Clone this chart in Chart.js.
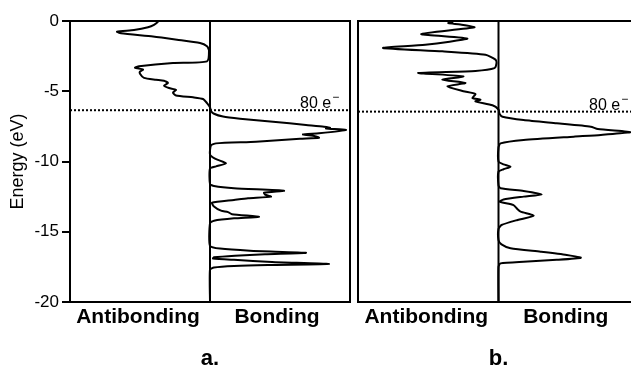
<!DOCTYPE html>
<html><head><meta charset="utf-8">
<script src="https://cdn.jsdelivr.net/npm/chart.js@4"></script>
<style>
html,body{margin:0;padding:0;background:#fff;overflow:hidden;width:631px;height:366px;}
#ca{position:absolute;left:0;top:0;}
#cb{position:absolute;left:350px;top:0;}
</style></head><body>
<canvas id="ca" width="360" height="366"></canvas>
<canvas id="cb" width="300" height="366"></canvas>
<script>
// ---- data (energy in eV, COHP-like value; negative = antibonding) ----
const energyA = [0,-0.05,-0.28,-0.45,-0.64,-0.76,-0.88,-1.1,-1.33,-1.57,-1.8,-2.1,-2.87,-2.99,-3.22,-3.32,-3.46,-3.6,-3.75,-4.05,-4.18,-4.25,-4.41,-4.6,-4.77,-4.9,-5.1,-5.3,-5.43,-5.55,-5.84,-6.14,
  -6.4,-6.6,-6.8,-6.95,-7.17,-7.4,-7.52,-7.6,-7.65,-7.76,-7.99,-8.07,-8.2,-8.31,-8.38,-8.59,-8.71,-8.85,-9.5,-9.8,-10.13,-10.35,-10.5,
  -11.6,-11.75,-11.91,-12.08,-12.22,-12.35,-12.5,-12.62,-12.74,-12.93,-13.2,-13.5,-13.6,-13.75,-13.93,-14.04,-14.21,-14.4,
  -16.0,-16.2,-16.35,-16.5,-16.6,-16.7,-16.82,-16.9,-17.0,-17.15,-17.3,-17.37,-17.44,-17.55,-17.7,-20];
const cohpA = [-0.53,-0.52,-0.56,-0.62,-0.76,-0.93,-0.89,-0.57,-0.33,-0.1,-0.03,-0.01,-0.03,-0.37,-0.71,-0.75,-0.67,-0.7,-0.7,-0.66,-0.54,-0.46,-0.42,-0.46,-0.41,-0.34,-0.37,-0.34,-0.17,-0.07,-0.03,0,
  0.01,0.04,0.13,0.3,0.63,0.96,1.14,1.2,1.16,1.36,1.09,0.93,1.05,1.09,0.9,0.46,0.06,0.01,0,0.05,0.16,0.06,0,
  0,0.04,0.24,0.74,0.54,0.55,0.61,0.38,0.24,0.02,0.04,0.11,0.18,0.22,0.49,0.24,0.04,0,
  0,0.1,0.4,0.96,0.55,0.25,0.04,0.03,0.24,0.62,1.19,0.58,0.24,0.04,0,0];

const energyB = [0,-0.07,-0.15,-0.25,-0.45,-0.93,-1.25,-1.69,-1.92,-2.16,-2.4,-2.75,-3.0,-3.35,-3.55,-3.7,-3.94,-4.18,-4.41,-4.65,-5.0,-5.2,-5.48,-5.6,-5.72,-6.0,-6.3,
  -6.6,-6.81,-7.05,-7.28,-7.52,-7.69,-7.9,-8.11,-8.23,-8.47,-8.71,-9.0,-10.0,-10.2,-10.37,-10.55,-10.72,
  -11.7,-11.9,-12.1,-12.34,-12.5,-12.7,-12.86,-13.1,-13.4,-13.57,-13.86,-14.16,-14.52,-14.8,
  -15.6,-15.9,-16.18,-16.42,-16.65,-16.85,-17.0,-17.13,-17.25,-17.5,-20];
const cohpB = [-0.45,-0.46,-0.5,-0.38,-0.24,-0.77,-0.31,-0.73,-1.15,-0.56,-0.13,-0.03,-0.02,-0.04,-0.23,-0.8,-0.35,-0.56,-0.33,-0.51,-0.35,-0.23,-0.26,-0.18,-0.23,-0.06,0,
  0.01,0.04,0.25,0.58,0.92,0.99,1.32,1.02,0.75,0.25,0.02,0,0,0.05,0.12,0.05,0,
  0,0.02,0.25,0.43,0.25,0.05,0.01,0.15,0.19,0.22,0.35,0.19,0.03,0,
  0,0.03,0.12,0.42,0.68,0.82,0.58,0.25,0.02,0,0];

const fermiA = -6.35;
const fermiB = -6.45;
const fermiLabel = '80 e';
const fermiSup = '\u2212';
const xTickValues = [-0.72, 0.67];
const xTickLabels = ['Antibonding', 'Bonding'];
const yTickStep = 5;
const yTitle = 'Energy (eV)';
const panelLabels = ['a.', 'b.'];

const FONT = "'Liberation Sans', Arial, Helvetica, sans-serif";

const framePlugin = {
  id: 'frame',
  afterDatasetsDraw(chart, args, opts) {
    const {ctx, chartArea: a, scales} = chart;
    ctx.save();
    // dotted Fermi line
    const yf = scales.y.getPixelForValue(opts.fermi);
    ctx.strokeStyle = '#000';
    ctx.lineWidth = 2;
    ctx.setLineDash([2, 2]);
    ctx.beginPath();
    ctx.moveTo(a.left, yf);
    ctx.lineTo(a.right, yf);
    ctx.stroke();
    ctx.setLineDash([]);
    // label
    ctx.fillStyle = '#000';
    ctx.textBaseline = 'alphabetic';
    ctx.textAlign = 'left';
    ctx.font = '16px ' + FONT;
    const tx = a.right - 50;
    ctx.fillText(fermiLabel, tx, yf - 2);
    const w = ctx.measureText(fermiLabel).width;
    ctx.font = '12px ' + FONT;
    ctx.fillText(fermiSup, tx + w + 1, yf - 9);
    // center line
    const xc = scales.x.getPixelForValue(0);
    ctx.lineWidth = 2;
    ctx.beginPath();
    ctx.moveTo(xc, a.top);
    ctx.lineTo(xc, a.bottom);
    ctx.stroke();
    // frame
    ctx.strokeRect(a.left, a.top, a.right - a.left, a.bottom - a.top);
    ctx.restore();
  }
};

function makePanel(id, energy, cohp, fermi, label, showY, padLeft, padRight) {
  const pts = energy.map((e, i) => ({x: cohp[i], y: e}));
  const yScale = {
    type: 'linear', min: -20, max: 0, display: showY,
    ticks: {stepSize: yTickStep, color: '#000', padding: 3,
      font: {family: FONT, size: 17}},
    grid: {display: true, drawOnChartArea: false, drawTicks: true, tickLength: 8,
      color: '#000', lineWidth: 2},
    border: {display: false},
    title: {display: true, text: yTitle, color: '#000',
      font: {family: FONT, size: 18}, padding: {top: 7, bottom: 0}}
  };
  if (showY) yScale.afterFit = s => { s.width = 70; };
  return new Chart(document.getElementById(id), {
    type: 'scatter',
    data: {datasets: [{
      data: pts, showLine: true, borderColor: '#000', borderWidth: 2,
      pointRadius: 0, tension: 0.2, fill: false
    }]},
    plugins: [framePlugin],
    options: {
      responsive: false, animation: false, devicePixelRatio: 1,
      layout: {padding: {left: padLeft, right: padRight, top: 21, bottom: 0}},
      plugins: {legend: {display: false}, tooltip: {enabled: false}, frame: {fermi: fermi}},
      scales: {
        x: {
          type: 'linear', min: -1.4, max: 1.4,
          afterBuildTicks: s => { s.ticks = xTickValues.map(v => ({value: v})); },
          afterFit: s => { s.height = 64; },
          ticks: {
            callback: (v, i) => xTickLabels[i], autoSkip: false, maxRotation: 0,
            font: {family: FONT, size: 21, weight: 'bold'}, color: '#000', padding: 3
          },
          grid: {display: false, drawTicks: false},
          border: {display: false},
          title: {display: true, text: label, color: '#000',
            font: {family: FONT, size: 22, weight: 'bold', lineHeight: 1.0},
            padding: {top: 0, bottom: -4}}
        },
        y: yScale
      }
    }
  });
}

makePanel('ca', energyA, cohpA, fermiA, panelLabels[0], true, 0, 10);
makePanel('cb', energyB, cohpB, fermiB, panelLabels[1], false, 8, 11);
</script>
</body></html>
